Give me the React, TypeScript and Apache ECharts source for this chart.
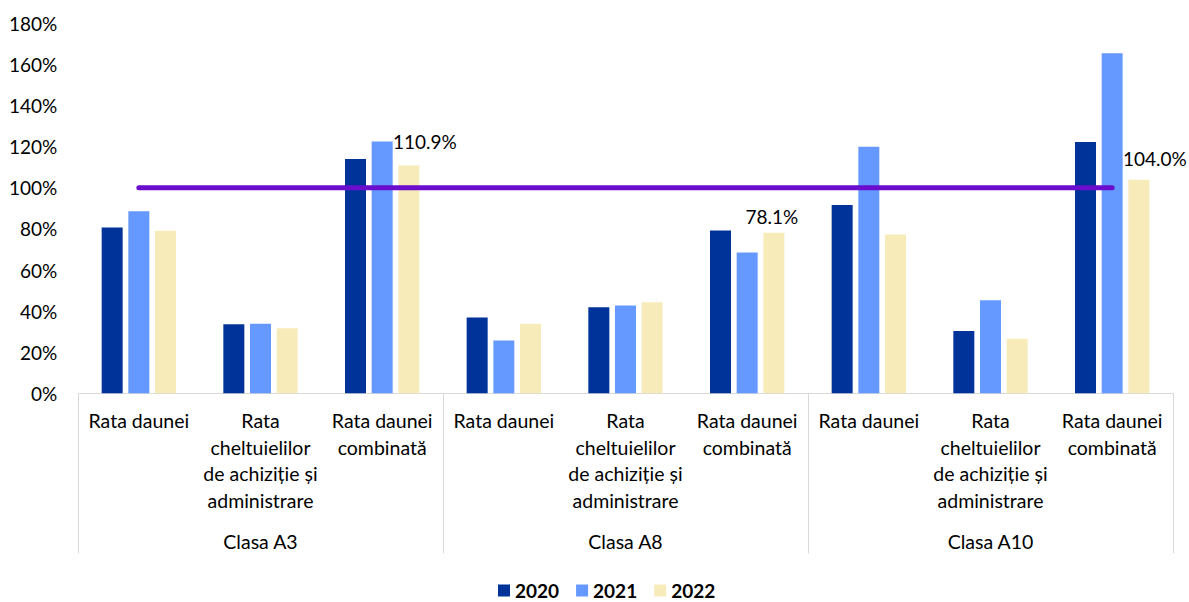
import React, { useEffect, useRef } from "react";
import * as echarts from "echarts";

const categories = [
  "Rata daunei",
  "Rata\ncheltuielilor\nde achiziție și\nadministrare",
  "Rata daunei\ncombinată",
  "Rata daunei",
  "Rata\ncheltuielilor\nde achiziție și\nadministrare",
  "Rata daunei\ncombinată",
  "Rata daunei",
  "Rata\ncheltuielilor\nde achiziție și\nadministrare",
  "Rata daunei\ncombinată",
];
const groups = ["Clasa A3", "Clasa A8", "Clasa A10"];
const seriesNames = ["2020", "2021", "2022"];
const values2020 = [80.7, 33.6, 114.1, 36.9, 41.9, 79.2, 91.7, 30.3, 122.3];
const values2021 = [88.6, 33.8, 122.6, 25.7, 42.7, 68.5, 120.0, 45.3, 165.5];
const values2022 = [79.1, 31.7, 110.9, 33.8, 44.3, 78.1, 77.3, 26.6, 104.0];
const thresholdValues = [100, 100, 100, 100, 100, 100, 100, 100, 100];
const labeledIndices = [2, 5, 8];
const yTicks = { min: 0, max: 180, interval: 20 };

// layout / style constants
const FONT = "Lato, 'Noto Sans', sans-serif";
const COLORS = ["#003399", "#6699FF", "#F7EBBA"];
const LABEL_OFFSETS: Record<number, [number, number]> = {
  2: [16, -9],
  5: [-2, -2],
  8: [16, -7],
};

export default function App() {
  const ref = useRef<HTMLDivElement>(null);

  useEffect(() => {
    if (!ref.current) return;
    const chart = echarts.init(ref.current, undefined, { renderer: "svg" });

    const values = [values2020, values2021, values2022];
    const barSeries = seriesNames.map((name, si) => ({
      name,
      type: "bar",
      xAxisIndex: 0,
      yAxisIndex: 0,
      barWidth: 21,
      barGap: "27%",
      itemStyle: { color: COLORS[si] },
      data: values[si].map((v, i) =>
        si === 2 && labeledIndices.includes(i)
          ? {
              value: v,
              label: {
                show: true,
                position: "top",
                distance: 5,
                offset: LABEL_OFFSETS[i],
                formatter: (p: any) => `${Number(p.value).toFixed(1)}%`,
                fontFamily: FONT,
                fontSize: 19,
                color: "#000000",
              },
            }
          : v
      ),
    }));

    chart.setOption({
      animation: false,
      backgroundColor: "#ffffff",
      grid: { left: 78, right: 16, top: 23.5, bottom: 208.7, containLabel: false },
      legend: {
        data: seriesNames,
        left: 493,
        top: 576,
        padding: 5,
        icon: "rect",
        itemWidth: 12,
        itemHeight: 12,
        itemGap: 17,
        textStyle: { fontFamily: FONT, fontSize: 19, lineHeight: 19, fontWeight: "bold", color: "#000000" },
      },
      xAxis: [
        {
          type: "category",
          position: "bottom",
          data: categories,
          axisLine: { show: true, lineStyle: { color: "#D9D9D9", width: 1 } },
          axisTick: { show: false },
          axisLabel: {
            interval: 0,
            margin: 14,
            fontFamily: FONT,
            fontSize: 19.5,
            lineHeight: 26.5,
            color: "#000000",
            align: "center",
          },
          splitLine: { show: false },
        },
        {
          type: "category",
          position: "bottom",
          data: groups,
          boundaryGap: true,
          axisLine: { show: false },
          axisTick: { show: true, length: 160, lineStyle: { color: "#D9D9D9", width: 1 } },
          axisLabel: {
            interval: 0,
            margin: 134.5,
            fontFamily: FONT,
            fontSize: 19.5,
            lineHeight: 26.5,
            color: "#000000",
          },
          splitLine: { show: false },
        },
      ],
      yAxis: {
        type: "value",
        min: yTicks.min,
        max: yTicks.max,
        interval: yTicks.interval,
        axisLine: { show: false },
        axisTick: { show: false },
        splitLine: { show: false },
        axisLabel: {
          formatter: "{value}%",
          margin: 20.7,
          fontFamily: FONT,
          fontSize: 19,
          color: "#000000",
        },
      },
      series: [
        ...barSeries,
        {
          name: "Prag",
          type: "line",
          xAxisIndex: 0,
          yAxisIndex: 0,
          data: thresholdValues,
          symbol: "none",
          silent: true,
          z: 5,
          lineStyle: { color: "#6A0DCC", width: 5, cap: "round" },
        },
      ],
    });

    return () => chart.dispose();
  }, []);

  return (
    <div
      ref={ref}
      style={{ position: "fixed", left: 0, top: 0, width: 1189, height: 602, background: "#fff" }}
    />
  );
}
